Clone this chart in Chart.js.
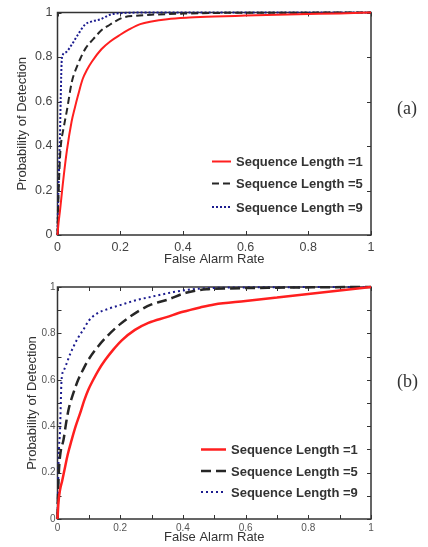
<!DOCTYPE html>
<html lang="en">
<head>
  <meta charset="UTF-8" />
  <title>ROC curves</title>
  <script src="https://cdn.jsdelivr.net/npm/chart.js"></script>
  <style>
    body { margin: 0; background: #fff; }
    #wrap { position: relative; width: 428px; height: 547px; }
    canvas { position: absolute; left: 0; }
    #chartA { top: 0; }
    #chartB { top: 268px; }
    .tag {
      position: absolute;
      font-family: "Liberation Serif", "Times New Roman", serif;
      font-size: 18px;
      color: #333;
      line-height: 18px;
    }
  </style>
</head>
<body>
  <div id="wrap">
    <canvas id="chartA" width="428" height="268"></canvas>
    <canvas id="chartB" width="428" height="279"></canvas>
    <div class="tag" style="left:397px; top:99px;">(a)</div>
    <div class="tag" style="left:397px; top:372px;">(b)</div>
  </div>

  <script>
    const seriesLabels = ['Sequence Length =1', 'Sequence Length =5', 'Sequence Length =9'];

    // chart (a)
    const faA1 = [0, 0.003, 0.008, 0.017, 0.03, 0.045, 0.055, 0.066, 0.08, 0.095, 0.11, 0.14, 0.168, 0.2, 0.23, 0.264, 0.3, 0.35, 0.42, 0.5, 0.6, 0.7, 0.8, 0.9, 1];
    const pdA1 = [0, 0.05, 0.11, 0.23, 0.38, 0.51, 0.57, 0.63, 0.70, 0.745, 0.78, 0.835, 0.87, 0.9, 0.925, 0.948, 0.96, 0.97, 0.977, 0.982, 0.986, 0.99, 0.993, 0.996, 1];
    const faA5 = [0, 0.002, 0.005, 0.008, 0.012, 0.018, 0.03, 0.046, 0.06, 0.072, 0.09, 0.114, 0.14, 0.168, 0.19, 0.21, 0.25, 0.3, 0.4, 0.5, 0.7, 1];
    const pdA5 = [0, 0.12, 0.25, 0.35, 0.42, 0.47, 0.56, 0.69, 0.75, 0.79, 0.84, 0.88, 0.92, 0.946, 0.965, 0.978, 0.985, 0.99, 0.995, 0.998, 0.999, 1];
    const faA9 = [0, 0.002, 0.005, 0.008, 0.01, 0.014, 0.025, 0.046, 0.065, 0.088, 0.11, 0.136, 0.168, 0.2, 0.3, 1];
    const pdA9 = [0, 0.15, 0.3, 0.45, 0.6, 0.795, 0.82, 0.857, 0.9, 0.946, 0.96, 0.969, 0.99, 0.997, 1, 1];

    // chart (b)
    const faB1 = [0, 0.003, 0.008, 0.015, 0.022, 0.033, 0.045, 0.058, 0.072, 0.085, 0.098, 0.114, 0.13, 0.152, 0.178, 0.205, 0.247, 0.29, 0.348, 0.4, 0.455, 0.5, 0.6, 0.7, 0.8, 0.9, 1];
    const pdB1 = [0, 0.07, 0.125, 0.165, 0.21, 0.28, 0.34, 0.4, 0.455, 0.51, 0.556, 0.6, 0.64, 0.685, 0.73, 0.77, 0.815, 0.845, 0.87, 0.893, 0.912, 0.925, 0.94, 0.955, 0.97, 0.985, 1];
    const faB5 = [0, 0.002, 0.005, 0.01, 0.019, 0.027, 0.035, 0.05, 0.066, 0.082, 0.098, 0.13, 0.162, 0.2, 0.263, 0.3, 0.348, 0.41, 0.475, 0.55, 0.7, 0.85, 1];
    const pdB5 = [0, 0.12, 0.22, 0.29, 0.34, 0.41, 0.47, 0.54, 0.6, 0.645, 0.685, 0.745, 0.793, 0.84, 0.9, 0.925, 0.944, 0.975, 0.99, 0.994, 0.997, 0.999, 1];
    const faB9 = [0, 0.002, 0.004, 0.008, 0.013, 0.02, 0.029, 0.04, 0.05, 0.065, 0.082, 0.1, 0.125, 0.16, 0.2, 0.25, 0.3, 0.37, 0.43, 0.5, 0.7, 1];
    const pdB9 = [0, 0.15, 0.28, 0.38, 0.6, 0.64, 0.67, 0.71, 0.74, 0.78, 0.815, 0.855, 0.885, 0.905, 0.922, 0.943, 0.958, 0.978, 0.99, 0.996, 0.999, 1];

    const zip = (xs, ys) => xs.map((x, i) => ({ x: x, y: ys[i] }));

    // box + inward ticks on all four sides, drawn under the curves
    const boxPlugin = {
      id: 'box',
      beforeDatasetsDraw(chart) {
        const { ctx, chartArea: a, scales: { x, y } } = chart;
        const len = 4;
        ctx.save();
        ctx.strokeStyle = '#333';
        ctx.lineWidth = 1.5;
        ctx.strokeRect(a.left, a.top, a.width, a.height);
        ctx.lineWidth = 1;
        ctx.beginPath();
        x.ticks.forEach(t => {
          const px = Math.round(x.getPixelForValue(t.value)) + 0.5;
          ctx.moveTo(px, a.bottom); ctx.lineTo(px, a.bottom - len);
          ctx.moveTo(px, a.top); ctx.lineTo(px, a.top + len);
        });
        y.ticks.forEach(t => {
          const py = Math.round(y.getPixelForValue(t.value)) + 0.5;
          ctx.moveTo(a.left, py); ctx.lineTo(a.left + len, py);
          ctx.moveTo(a.right, py); ctx.lineTo(a.right - len, py);
        });
        ctx.stroke();
        ctx.restore();
      }
    };

    // legend drawn inside the plot, reading the dataset styles
    const legendPlugin = {
      id: 'innerLegend',
      afterDraw(chart, args, opts) {
        const { ctx } = chart;
        ctx.save();
        ctx.font = 'bold 13px "Liberation Sans", Arial, sans-serif';
        ctx.fillStyle = '#333';
        ctx.textBaseline = 'middle';
        chart.data.datasets.forEach((ds, i) => {
          const yy = opts.rows[i];
          ctx.beginPath();
          ctx.strokeStyle = ds.borderColor;
          ctx.lineWidth = ds.borderWidth;
          ctx.setLineDash(ds.borderDash || []);
          ctx.moveTo(opts.x0, yy);
          ctx.lineTo(opts.x1, yy);
          ctx.stroke();
          ctx.setLineDash([]);
          ctx.fillText(ds.label, opts.textX, yy + 1);
        });
        ctx.restore();
      }
    };

    function makeChart(id, sets, o) {
      const tickLabel = v => {
        const r = Math.round(v * 10);
        if (r % 2 !== 0) return '';
        return r === 0 ? '0' : r === 10 ? '1' : (r / 10).toString();
      };
      const styles = [
        { borderColor: '#ff1f1f', borderWidth: o.lw, borderDash: [] },
        { borderColor: '#262626', borderWidth: o.lw, borderDash: o.dash },
        { borderColor: '#1c1c8f', borderWidth: 2, borderDash: o.dot }
      ];
      const font = { family: '"Liberation Sans", Arial, sans-serif', size: o.tickSize };
      return new Chart(document.getElementById(id), {
        type: 'scatter',
        data: {
          datasets: sets.map((s, i) => Object.assign({
            label: seriesLabels[i],
            data: zip(s[0], s[1]),
            showLine: true,
            pointRadius: 0,
            cubicInterpolationMode: 'monotone',
            clip: 4
          }, styles[i]))
        },
        options: {
          responsive: false,
          animation: false,
          layout: { padding: { top: o.top, right: 57, left: 0, bottom: 0 } },
          plugins: {
            legend: { display: false },
            tooltip: { enabled: false },
            innerLegend: o.legend
          },
          scales: {
            x: {
              type: 'linear', min: 0, max: 1,
              grid: { display: false, drawTicks: false },
              border: { display: false },
              ticks: { stepSize: o.step, padding: o.xPad, color: o.tickColor, font: font, callback: tickLabel, maxRotation: 0, autoSkip: false },
              title: { display: true, text: 'False Alarm Rate', color: '#333', font: { family: '"Liberation Sans", Arial, sans-serif', size: 13 }, padding: { top: 0, bottom: o.xTitlePad } },
              afterFit: s => { s.height = o.xH; }
            },
            y: {
              type: 'linear', min: 0, max: 1,
              grid: { display: false, drawTicks: false },
              border: { display: false },
              ticks: { stepSize: o.step, padding: o.yPad, color: o.tickColor, font: font, callback: tickLabel, autoSkip: false },
              title: { display: true, text: 'Probability of Detection', color: '#333', font: { family: '"Liberation Sans", Arial, sans-serif', size: 13 }, padding: { top: o.yTitlePad, bottom: 0 } },
              afterFit: s => { s.width = 57.5; }
            }
          }
        },
        plugins: [boxPlugin, legendPlugin]
      });
    }

    makeChart('chartA', [[faA1, pdA1], [faA5, pdA5], [faA9, pdA9]], {
      top: 11.5, xH: 33, step: 0.2, lw: 2, dash: [7, 4], dot: [2, 2],
      tickSize: 12.5, tickColor: '#444', xPad: 5, yPad: 5, xTitlePad: 1, yTitlePad: 15,
      legend: { x0: 212, x1: 231, textX: 236, rows: [161.5, 183.5, 207] }
    });

    makeChart('chartB', [[faB1, pdB1], [faB5, pdB5], [faB9, pdB9]], {
      top: 19, xH: 28, step: 0.1, lw: 2.5, dash: [10, 5], dot: [2, 3],
      tickSize: 10, tickColor: '#555', xPad: 3, yPad: 2, xTitlePad: 1.5, yTitlePad: 25,
      legend: { x0: 201, x1: 226, textX: 231, rows: [181.5, 203, 224] }
    });
  </script>
</body>
</html>
